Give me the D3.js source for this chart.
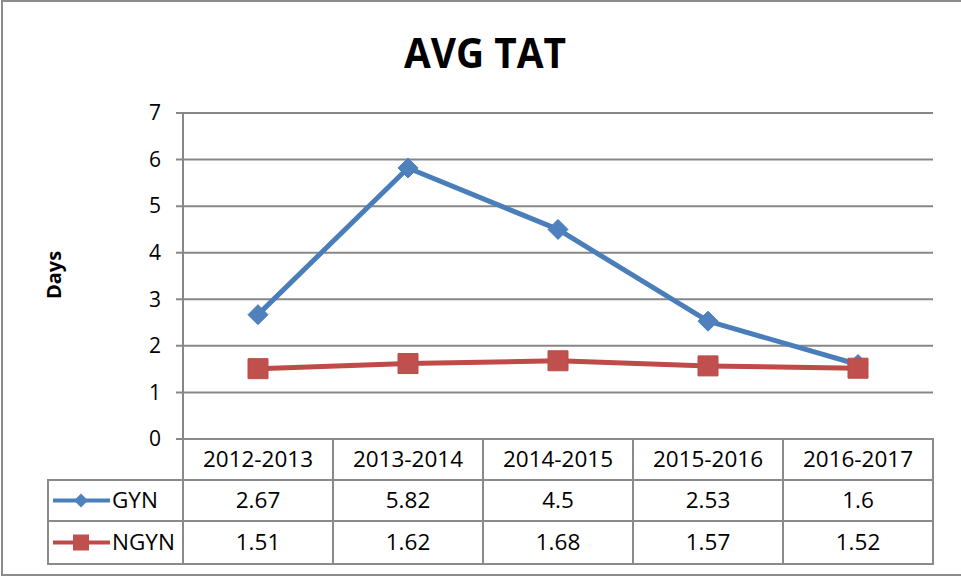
<!DOCTYPE html>
<html>
<head>
<meta charset="utf-8">
<script src="https://cdn.jsdelivr.net/npm/d3@7"></script>
<style>
    body { margin: 0; background: #fff; }
    svg { display: block; font-family: "Open Sans", sans-serif; }
    .grid line { stroke: #878787; stroke-width: 2; }
    .cell { fill: none; stroke: #8a8a8a; stroke-width: 2; }
    .cellText { font-size: 22.5px; fill: #000; }
</style>
</head>
<body>
<svg id="chart" width="961" height="576"></svg>
<script>
var categories = ['2012-2013', '2013-2014', '2014-2015', '2015-2016', '2016-2017']
var gyn = [2.67, 5.82, 4.5, 2.53, 1.6]
var ngyn = [1.51, 1.62, 1.68, 1.57, 1.52]
var seriesNames = ['GYN', 'NGYN']
var yTicks = [0, 1, 2, 3, 4, 5, 6, 7]

var series = [
    { name: seriesNames[0], values: gyn, line: '#4a7ebb', fill: '#4f81bd', marker: 'diamond' },
    { name: seriesNames[1], values: ngyn, line: '#be4b48', fill: '#c0504d', marker: 'square' }
]

var svg = d3.select('#chart')

// outer frame
svg.append('rect')
    .attr('x', 2).attr('y', 1)
    .attr('width', 970).attr('height', 574)
    .attr('fill', 'none')
    .attr('stroke', '#8c8c8c')
    .attr('stroke-width', 2)

svg.append('text')
    .attr('x', 485).attr('y', 68)
    .attr('text-anchor', 'middle')
    .attr('font-size', 42)
    .attr('font-weight', 'bold')
    .attr('textLength', 162)
    .attr('lengthAdjust', 'spacingAndGlyphs')
    .text('AVG TAT')

var x = d3.scaleBand().domain(categories).range([183, 933])
var y = d3.scaleLinear().domain([0, 7]).range([439, 113])

// gridlines + ticks
var grid = svg.append('g').attr('class', 'grid')
grid.selectAll('line')
    .data(yTicks)
    .enter()
    .append('line')
    .attr('x1', 176).attr('x2', 933)
    .attr('y1', d => y(d)).attr('y2', d => y(d))

svg.append('line')
    .attr('x1', 183).attr('x2', 183)
    .attr('y1', y(7)).attr('y2', y(0))
    .attr('stroke', '#878787').attr('stroke-width', 2)

svg.selectAll('.yLabel')
    .data(yTicks)
    .enter()
    .append('text')
    .attr('class', 'yLabel')
    .attr('x', 161)
    .attr('y', d => y(d))
    .attr('dy', '0.35em')
    .attr('text-anchor', 'end')
    .attr('font-size', 21)
    .text(d => d)

svg.append('text')
    .attr('transform', 'translate(61,275) rotate(-90)')
    .attr('text-anchor', 'middle')
    .attr('font-size', 20)
    .attr('font-weight', 'bold')
    .text('Days')

function markerPath(type, r) {
    if (type == 'diamond') return 'M0 ' + (-r) + 'L' + r + ' 0L0 ' + r + 'L' + (-r) + ' 0Z'
    return 'M' + (-r) + ' ' + (-r) + 'H' + r + 'V' + r + 'H' + (-r) + 'Z'
}

var line = d3.line()
    .x((d, i) => x(categories[i]) + x.bandwidth() / 2)
    .y(d => y(d))

series.forEach(function (s) {
    svg.append('path')
        .attr('d', line(s.values))
        .attr('fill', 'none')
        .attr('stroke', s.line)
        .attr('stroke-width', 5)
        .attr('stroke-linejoin', 'round')

    svg.selectAll('.m-' + s.name)
        .data(s.values)
        .enter()
        .append('path')
        .attr('class', 'm-' + s.name)
        .attr('transform', (d, i) => 'translate(' + (x(categories[i]) + x.bandwidth() / 2) + ',' + y(d) + ')')
        .attr('d', markerPath(s.marker, s.marker == 'diamond' ? 10 : 10))
        .attr('fill', s.fill)
        .attr('stroke', s.line)
        .attr('stroke-width', 1)
})

// data table
var rowTop = [439, 480, 521]
var rowBottom = [480, 521, 564]
var table = svg.append('g')

categories.forEach(function (c) {
    table.append('rect').attr('class', 'cell')
        .attr('x', x(c)).attr('y', rowTop[0])
        .attr('width', x.bandwidth()).attr('height', rowBottom[0] - rowTop[0])
    table.append('text').attr('class', 'cellText')
        .attr('x', x(c) + x.bandwidth() / 2)
        .attr('y', (rowTop[0] + rowBottom[0]) / 2)
        .attr('dy', '0.35em')
        .attr('text-anchor', 'middle')
        .text(c)
})

series.forEach(function (s, si) {
    var top = rowTop[si + 1], bottom = rowBottom[si + 1], mid = (top + bottom) / 2
    table.append('rect').attr('class', 'cell')
        .attr('x', 48).attr('y', top)
        .attr('width', 183 - 48).attr('height', bottom - top)
    table.append('line')
        .attr('x1', 53).attr('x2', 110)
        .attr('y1', mid).attr('y2', mid)
        .attr('stroke', s.line).attr('stroke-width', 4)
    table.append('path')
        .attr('transform', 'translate(81,' + mid + ')')
        .attr('d', markerPath(s.marker, s.marker == 'diamond' ? 7 : 8))
        .attr('fill', s.fill)
    table.append('text').attr('class', 'cellText')
        .attr('x', 112).attr('y', mid)
        .attr('dy', '0.35em')
        .text(s.name)

    s.values.forEach(function (v, i) {
        var c = categories[i]
        table.append('rect').attr('class', 'cell')
            .attr('x', x(c)).attr('y', top)
            .attr('width', x.bandwidth()).attr('height', bottom - top)
        table.append('text').attr('class', 'cellText')
            .attr('x', x(c) + x.bandwidth() / 2)
            .attr('y', mid)
            .attr('dy', '0.35em')
            .attr('text-anchor', 'middle')
            .text(v)
    })
})
</script>
</body>
</html>
